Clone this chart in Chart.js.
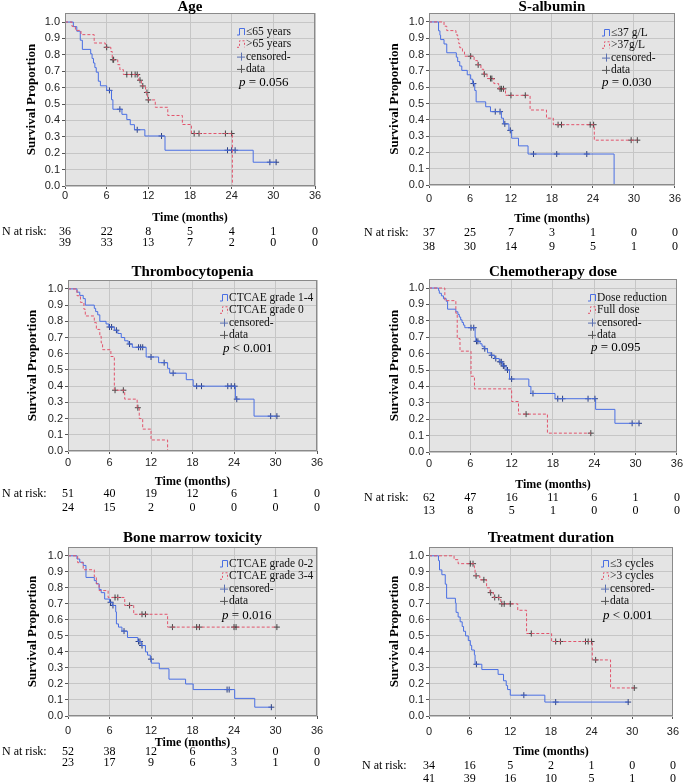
<!doctype html>
<html lang="en">
<head>
<meta charset="utf-8">
<title>Kaplan-Meier survival by subgroup</title>
<style>
  * { margin: 0; padding: 0; }
  body { width: 685px; height: 784px; background: #fff; position: relative; overflow: hidden; }
  canvas { position: absolute; }
</style>
</head>
<body>
<div id="wrap"></div>
<script src="https://cdn.jsdelivr.net/npm/chart.js"></script>
<script>
// ---- data (months / survival proportion) ----
const timeTicks = [0, 6, 12, 18, 24, 30, 36];
const yTicks = [0, 0.1, 0.2, 0.3, 0.4, 0.5, 0.6, 0.7, 0.8, 0.9, 1.0];

// Age
const ageNames = ['\u226465 years', '>65 years'];
const ageAT = [0, 1.2, 1.7, 2.2, 2.5, 3.7, 3.9, 4.1, 4.3, 4.5, 4.8, 5.1, 6.0, 6.7, 6.9, 8.2, 8.9, 9.4, 10.0, 11.5, 14.4, 27.1];
const ageAS = [1, 0.972, 0.944, 0.889, 0.833, 0.806, 0.778, 0.75, 0.722, 0.694, 0.639, 0.611, 0.583, 0.526, 0.468, 0.437, 0.405, 0.374, 0.343, 0.305, 0.218, 0.145];
const ageAC = [6.4, 7.9, 10.4, 13.9, 23.4, 24.0, 24.5, 29.5, 30.4];
const ageBT = [0, 1.0, 1.5, 2.3, 4.2, 5.8, 6.6, 6.8, 7.6, 7.9, 8.4, 10.6, 11.0, 11.6, 11.9, 13.0, 14.8, 16.9, 18.2, 24.1];
const ageBS = [1, 0.974, 0.949, 0.923, 0.872, 0.846, 0.82, 0.77, 0.74, 0.71, 0.68, 0.645, 0.61, 0.57, 0.525, 0.48, 0.43, 0.375, 0.32, 0];
const ageBC = [6.0, 6.9, 7.0, 8.9, 9.6, 10.1, 10.4, 10.8, 11.2, 11.8, 12.0, 18.6, 19.3, 23.1, 24.0];
const ageRiskA = [36, 22, 8, 5, 4, 1, 0];
const ageRiskB = [39, 33, 13, 7, 2, 0, 0];

// S-albumin
const albNames = ['\u226437 g/L', '>37g/L'];
const albAT = [0, 1.4, 1.6, 1.7, 2.2, 2.6, 4.0, 4.2, 4.5, 4.8, 5.6, 6.1, 6.4, 6.7, 6.9, 8.3, 9.0, 10.6, 10.9, 11.7, 12.1, 13.1, 14.5, 27.1];
const albAS = [1, 0.946, 0.919, 0.892, 0.865, 0.811, 0.784, 0.757, 0.73, 0.703, 0.676, 0.649, 0.622, 0.58, 0.51, 0.48, 0.45, 0.41, 0.375, 0.335, 0.287, 0.24, 0.19, 0];
const albAC = [6.5, 9.7, 10.4, 11.1, 11.9, 15.3, 18.7, 23.1];
const albBT = [0, 2.2, 2.6, 3.95, 4.2, 4.35, 4.5, 4.9, 5.2, 6.6, 7.1, 7.6, 8.0, 8.5, 9.5, 10.2, 11.2, 14.8, 17.2, 18.2, 24.2];
const albBS = [1, 0.974, 0.947, 0.921, 0.895, 0.868, 0.842, 0.816, 0.79, 0.763, 0.737, 0.71, 0.68, 0.653, 0.622, 0.59, 0.55, 0.46, 0.41, 0.37, 0.275];
const albBC = [6.1, 7.2, 8.1, 9.0, 9.2, 10.4, 10.6, 10.9, 12.0, 14.1, 18.9, 19.4, 23.6, 24.1, 29.6, 30.5];
const albRiskA = [37, 25, 7, 3, 1, 0, 0];
const albRiskB = [38, 30, 14, 9, 5, 1, 0];

// Thrombocytopenia
const pltNames = ['CTCAE grade 1-4', 'CTCAE grade 0'];
const pltAT = [0, 1.3, 1.7, 2.2, 2.5, 3.8, 4.0, 4.3, 4.6, 5.5, 5.9, 6.7, 7.2, 7.7, 8.2, 8.7, 9.3, 11.3, 13.1, 14.4, 14.7, 17.1, 18.1, 24.2, 26.9];
const pltAS = [1, 0.98, 0.96, 0.94, 0.9, 0.88, 0.86, 0.84, 0.8, 0.784, 0.765, 0.745, 0.725, 0.7, 0.68, 0.66, 0.64, 0.58, 0.545, 0.51, 0.48, 0.44, 0.4, 0.32, 0.215];
const pltAC = [6.0, 6.3, 7.0, 8.9, 10.2, 10.5, 10.8, 12.0, 13.9, 15.2, 18.6, 19.3, 23.1, 23.6, 24.1, 24.4, 29.3, 30.2];
const pltBT = [0, 1.3, 1.8, 2.3, 2.5, 3.8, 4.1, 4.6, 4.8, 5.0, 6.2, 6.7, 8.2, 10.0, 10.3, 10.8, 12.0, 14.4];
const pltBS = [1, 0.958, 0.917, 0.875, 0.833, 0.792, 0.75, 0.708, 0.667, 0.625, 0.583, 0.375, 0.32, 0.267, 0.2, 0.135, 0.068, 0];
const pltBC = [6.8, 8.0, 10.1];
const pltRiskA = [51, 40, 19, 12, 6, 1, 0];
const pltRiskB = [24, 15, 2, 0, 0, 0, 0];

// Chemotherapy dose
const doseNames = ['Dose reduction', 'Full dose'];
const doseAT = [0, 1.4, 1.5, 1.8, 2.1, 2.5, 2.7, 3.9, 4.2, 4.4, 4.6, 4.8, 5.0, 5.2, 6.7, 6.8, 7.4, 7.7, 8.0, 8.5, 9.0, 9.5, 10.2, 10.7, 11.2, 11.7, 14.5, 14.8, 18.3, 24.2, 27.0];
const doseAS = [1, 0.984, 0.968, 0.952, 0.935, 0.919, 0.871, 0.855, 0.839, 0.823, 0.806, 0.79, 0.774, 0.758, 0.7, 0.675, 0.66, 0.645, 0.63, 0.605, 0.59, 0.57, 0.55, 0.525, 0.5, 0.445, 0.4, 0.357, 0.325, 0.26, 0.175];
const doseAC = [6.1, 6.5, 6.9, 7.1, 8.1, 9.1, 9.7, 10.3, 10.5, 10.8, 10.9, 11.4, 12.0, 15.1, 18.7, 19.4, 23.1, 24.1, 29.5, 30.5];
const doseBT = [0, 2.3, 3.9, 4.1, 4.5, 6.1, 6.6, 12.0, 13.0, 17.2];
const doseBS = [1, 0.923, 0.846, 0.692, 0.615, 0.462, 0.385, 0.308, 0.231, 0.115];
const doseBC = [14.1, 23.5];
const doseRiskA = [62, 47, 16, 11, 6, 1, 0];
const doseRiskB = [13, 8, 5, 1, 0, 0, 0];

// Bone marrow toxicity
const bmNames = ['CTCAE grade 0-2', 'CTCAE grade 3-4'];
const bmAT = [0, 1.3, 1.7, 2.2, 2.6, 3.8, 4.1, 4.5, 4.8, 5.3, 6.0, 6.4, 6.9, 7.0, 7.3, 7.8, 8.6, 10.1, 10.6, 11.2, 11.5, 11.9, 12.05, 13.2, 14.6, 17.0, 18.1, 24.1, 27.0];
const bmAS = [1, 0.98, 0.96, 0.94, 0.865, 0.845, 0.825, 0.79, 0.77, 0.73, 0.71, 0.69, 0.65, 0.575, 0.555, 0.53, 0.49, 0.465, 0.44, 0.4, 0.38, 0.355, 0.33, 0.295, 0.23, 0.2, 0.165, 0.11, 0.055];
const bmAC = [6.15, 6.5, 8.1, 10.2, 10.4, 10.7, 12.0, 23.0, 23.3, 29.4];
const bmBT = [0, 1.4, 2.2, 3.8, 4.1, 4.5, 5.8, 8.2, 9.5, 14.4];
const bmBS = [1, 0.957, 0.913, 0.87, 0.826, 0.783, 0.74, 0.69, 0.635, 0.555];
const bmBC = [6.8, 7.2, 8.9, 10.7, 11.2, 15.1, 18.6, 19.0, 24.0, 24.3, 30.2];
const bmRiskA = [52, 38, 12, 6, 3, 0, 0];
const bmRiskB = [23, 17, 9, 6, 3, 1, 0];

// Treatment duration
const durNames = ['\u22643 cycles', '>3 cycles'];
const durAT = [0, 1.4, 1.55, 1.9, 2.4, 2.6, 3.9, 4.0, 4.3, 4.6, 4.9, 5.1, 5.4, 5.8, 6.1, 6.3, 6.7, 6.8, 7.8, 10.2, 11.0, 11.4, 11.6, 12.0, 17.1];
const durAS = [1, 0.97, 0.912, 0.882, 0.823, 0.735, 0.706, 0.647, 0.618, 0.588, 0.559, 0.529, 0.5, 0.471, 0.441, 0.412, 0.382, 0.323, 0.29, 0.26, 0.22, 0.19, 0.165, 0.13, 0.087];
const durAC = [7.0, 14.0, 18.7, 29.4];
const durBT = [0, 3.7, 4.3, 6.7, 6.8, 7.5, 8.5, 9.0, 9.5, 10.6, 13.1, 14.4, 18.1, 24.1, 26.8];
const durBS = [1, 0.976, 0.951, 0.925, 0.875, 0.85, 0.8, 0.77, 0.74, 0.7, 0.66, 0.515, 0.465, 0.35, 0.175];
const durBC = [6.1, 6.5, 6.95, 8.1, 9.1, 9.7, 10.3, 10.75, 11.1, 12.0, 15.1, 18.7, 19.4, 23.1, 23.5, 24.0, 24.6, 30.3];
const durRiskA = [34, 16, 5, 2, 1, 0, 0];
const durRiskB = [41, 39, 16, 10, 5, 1, 0];

// ---- styles ----
const BLUE = '#4a6fe3';
const RED = '#e2546c';
const NAVY = '#2c3f80';
const DARK = '#444444';
const SERIF = '"Liberation Serif", "Times New Roman", serif';
Chart.defaults.font.family = '"Liberation Sans", Arial, sans-serif';

// box = canvas [left, top, width, height], plot = chart area [left, top, right, bottom] (page px)
// below = offsets under the plot: tick label centre, axis title, risk row 1, risk row 2
const panels = [
  { title: 'Age', box: [0, 0, 340, 262], plot: [65, 13, 315, 186], titleY: 7, yTitleX: 32,
    a: [ageAT, ageAS, ageAC], b: [ageBT, ageBS, ageBC], names: ageNames, p: '= 0.056',
    risk: [ageRiskA, ageRiskB], riskX: 2, leg: [172, 19], pPos: [174, 70], below: [10, 32, 46, 57] },
  { title: 'S-albumin', box: [340, 0, 345, 262], plot: [429, 13, 678, 185], titleY: 7, yTitleX: 395,
    a: [albAT, albAS, albAC], b: [albBT, albBS, albBC], names: albNames, p: '= 0.030',
    risk: [albRiskA, albRiskB], riskX: 364, leg: [173, 20], pPos: [173, 70], below: [14, 34, 48, 62] },
  { title: 'Thrombocytopenia', box: [0, 262, 340, 264], plot: [68, 280, 317, 451], titleY: 272, yTitleX: 33,
    a: [pltAT, pltAS, pltAC], b: [pltBT, pltBS, pltBC], names: pltNames, p: '< 0.001',
    risk: [pltRiskA, pltRiskB], riskX: 2, leg: [152, 18], pPos: [155, 69], below: [12, 31, 43, 57] },
  { title: 'Chemotherapy dose', box: [340, 262, 345, 264], plot: [429, 279, 678, 452], titleY: 272, yTitleX: 395,
    a: [doseAT, doseAS, doseAC], b: [doseBT, doseBS, doseBC], names: doseNames, p: '= 0.095',
    risk: [doseRiskA, doseRiskB], riskX: 364, leg: [159, 19], pPos: [162, 69], below: [12, 33, 46, 59] },
  { title: 'Bone marrow toxicity', box: [0, 526, 340, 258], plot: [68, 547, 317, 716], titleY: 538, yTitleX: 33,
    a: [bmAT, bmAS, bmAC], b: [bmBT, bmBS, bmBC], names: bmNames, p: '= 0.016',
    risk: [bmRiskA, bmRiskB], riskX: 2, leg: [152, 17], pPos: [154, 69], below: [15, 27, 36, 47] },
  { title: 'Treatment duration', box: [340, 526, 345, 258], plot: [429, 547, 678, 716], titleY: 538, yTitleX: 395,
    a: [durAT, durAS, durAC], b: [durBT, durBS, durBC], names: durNames, p: '< 0.001',
    risk: [durRiskA, durRiskB], riskX: 362, leg: [172, 17], pPos: [174, 69], below: [16, 36, 50, 63] }
];

// step curve points; the last level runs on to the last censored time
function stepPoints(T, S, C) {
  const pts = T.map((t, i) => ({ x: t, y: S[i] }));
  const last = pts[pts.length - 1];
  const lastC = C.length ? Math.max(...C) : 0;
  if (lastC > last.x) pts.push({ x: lastC, y: last.y });
  return pts;
}
// censor marks sit on the curve level at their time
function censorPoints(T, S, C) {
  return C.map(c => {
    let v = S[0];
    T.forEach((t, i) => { if (t <= c) v = S[i]; });
    return { x: c, y: v };
  });
}

const kmDecor = {
  id: 'kmDecor',
  beforeDraw(chart, args, o) {
    const { ctx, chartArea: a } = chart;
    ctx.save();
    ctx.fillStyle = '#e4e4e4';
    ctx.fillRect(a.left, a.top, a.width, a.height);
    ctx.restore();
  },
  afterDraw(chart, args, o) {
    const { ctx, chartArea: a, scales: { x } } = chart;
    const cx = (a.left + a.right) / 2;
    ctx.save();

    // frame
    ctx.strokeStyle = '#8a8a8a';
    ctx.lineWidth = 1;
    ctx.strokeRect(Math.round(a.left) + 0.5, Math.round(a.top) + 0.5, Math.round(a.width) - 1, Math.round(a.height) - 1);

    ctx.fillStyle = '#000';
    ctx.textAlign = 'center';
    ctx.textBaseline = 'middle';

    // title
    ctx.font = 'bold 15px ' + SERIF;
    ctx.fillText(o.title, cx, o.titleY);

    // y axis title
    ctx.save();
    ctx.translate(o.yTitleX, (a.top + a.bottom) / 2);
    ctx.rotate(-Math.PI / 2);
    ctx.font = 'bold 13px ' + SERIF;
    ctx.fillText('Survival Proportion', 0, 0);
    ctx.restore();

    // x axis title
    ctx.font = 'bold 12px ' + SERIF;
    ctx.fillText('Time (months)', cx, a.bottom + o.below[1]);

    // number at risk
    ctx.font = '12px ' + SERIF;
    o.risk.forEach((row, r) => {
      const y = a.bottom + o.below[2 + r];
      row.forEach((n, i) => ctx.fillText(String(n), x.getPixelForValue(timeTicks[i]), y));
    });
    ctx.textAlign = 'left';
    ctx.fillText('N at risk:', o.riskX, a.bottom + o.below[2]);

    // legend
    const lx = a.left + o.leg[0];
    const ly = a.top + o.leg[1];
    const rs = 12.3;
    const step = (y) => {
      ctx.beginPath();
      ctx.moveTo(lx, y + 3);
      ctx.lineTo(lx + 2.5, y + 3);
      ctx.lineTo(lx + 2.5, y - 3.5);
      ctx.lineTo(lx + 7.5, y - 3.5);
      ctx.lineTo(lx + 7.5, y + 3);
      ctx.stroke();
    };
    const cross = (y, col) => {
      ctx.strokeStyle = col;
      ctx.beginPath();
      ctx.moveTo(lx, y + 0.5);
      ctx.lineTo(lx + 8, y + 0.5);
      ctx.moveTo(lx + 4.5, y - 4);
      ctx.lineTo(lx + 4.5, y + 4);
      ctx.stroke();
    };
    ctx.lineWidth = 1;
    ctx.strokeStyle = BLUE;
    step(ly);
    ctx.strokeStyle = RED;
    ctx.setLineDash([2, 2]);
    step(ly + rs);
    ctx.setLineDash([]);
    cross(ly + 2 * rs, '#5a6fb0');
    cross(ly + 3 * rs, '#555');
    ctx.fillStyle = '#111';
    ctx.font = '11.5px ' + SERIF;
    [o.names[0], o.names[1], 'censored-', 'data'].forEach((t, i) => ctx.fillText(t, lx + 9, ly + i * rs));

    // p value
    const px = a.left + o.pPos[0];
    const py = a.top + o.pPos[1];
    ctx.fillStyle = '#000';
    ctx.font = 'italic 13px ' + SERIF;
    ctx.fillText('p', px, py);
    const pw = ctx.measureText('p ').width;
    ctx.font = '13px ' + SERIF;
    ctx.fillText(o.p, px + pw, py);

    ctx.restore();
  }
};

const wrap = document.getElementById('wrap');
panels.forEach(pn => {
  const [bl, bt, bw, bh] = pn.box;
  const [pl, pt, pr, pb] = pn.plot;
  const cv = document.createElement('canvas');
  cv.width = bw;
  cv.height = bh;
  cv.style.left = bl + 'px';
  cv.style.top = bt + 'px';
  cv.style.width = bw + 'px';
  cv.style.height = bh + 'px';
  wrap.appendChild(cv);

  new Chart(cv, {
    type: 'line',
    data: {
      datasets: [
        { data: stepPoints(...pn.b), borderColor: RED, borderWidth: 1, borderDash: [3, 2], stepped: true, pointRadius: 0, fill: false },
        { data: stepPoints(...pn.a), borderColor: BLUE, borderWidth: 1, stepped: true, pointRadius: 0, fill: false },
        { data: censorPoints(...pn.b), showLine: false, pointStyle: 'cross', pointRadius: 3, borderColor: DARK, borderWidth: 1 },
        { data: censorPoints(...pn.a), showLine: false, pointStyle: 'cross', pointRadius: 3, borderColor: NAVY, borderWidth: 1 }
      ]
    },
    options: {
      responsive: false,
      animation: false,
      devicePixelRatio: 1,
      layout: { padding: { top: pt - bt, right: bl + bw - pr, left: 0, bottom: 0 } },
      scales: {
        x: {
          type: 'linear', min: 0, max: 36,
          afterFit: s => { s.height = bt + bh - pb; },
          afterBuildTicks: s => { s.ticks = timeTicks.map(v => ({ value: v })); },
          grid: { color: '#c6c6c6', tickColor: '#555', tickLength: 3 },
          border: { display: false },
          ticks: { color: '#222', font: { size: 11 }, padding: Math.max(0, pn.below[0] - 10), maxRotation: 0 }
        },
        y: {
          min: 0, max: 1.055,
          afterFit: s => { s.width = pl - bl; },
          afterBuildTicks: s => { s.ticks = yTicks.map(v => ({ value: v })); },
          grid: { color: '#c6c6c6', tickColor: '#555', tickLength: 3 },
          border: { display: false },
          ticks: { color: '#222', font: { size: 11 }, padding: 2, callback: v => v.toFixed(1) }
        }
      },
      plugins: {
        legend: { display: false },
        tooltip: { enabled: false },
        kmDecor: {
          title: pn.title, titleY: pn.titleY - bt, yTitleX: pn.yTitleX - bl,
          names: pn.names, p: pn.p, risk: pn.risk, riskX: pn.riskX - bl,
          leg: pn.leg, pPos: pn.pPos, below: pn.below
        }
      }
    },
    plugins: [kmDecor]
  });
});
</script>
</body>
</html>
